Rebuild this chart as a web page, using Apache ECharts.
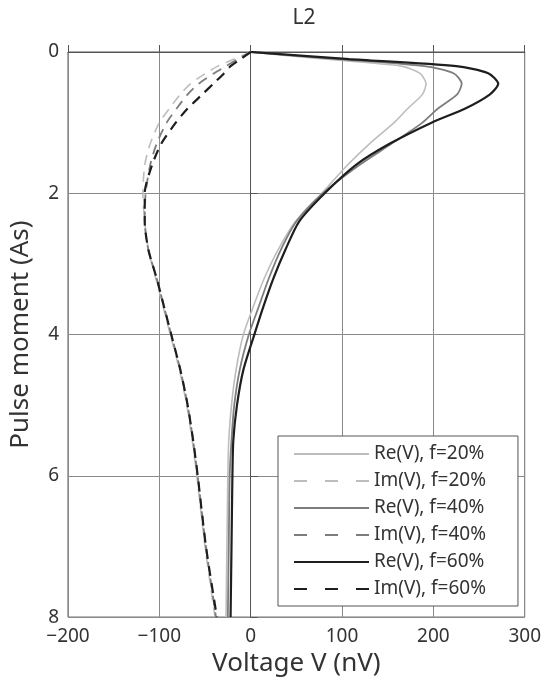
<!DOCTYPE html>
<html>
<head>
<meta charset="utf-8">
<script src="https://cdn.jsdelivr.net/npm/echarts@6/dist/echarts.min.js"></script>
<style>
  html, body { margin: 0; padding: 0; background: #fff; }
  #chart { width: 544px; height: 682px; }
</style>
</head>
<body>
<div id="chart"></div>
<script>
// pulse moment (As), shared by every curve
const pulseMoment = [0, 0.1, 0.2, 0.3, 0.45, 0.6, 0.8, 1.0, 1.3, 1.6, 2.0, 2.4, 2.8, 3.2, 3.6, 4.0, 4.5, 5.0, 5.5, 6.0, 7.0, 8.0];

// voltage (nV)
const re20 = [0, 80, 165, 185, 192, 188, 172, 157, 130, 106, 78, 49, 30, 15, 3, -8, -16, -21, -24, -25, -26, -27];
const im20 = [0, -18, -36, -49, -66, -77, -89, -100, -110, -116, -118, -116, -112, -104, -96, -88, -78, -70, -64, -59, -50, -39];
const re40 = [0, 95, 190, 222, 231, 226, 205, 188, 154, 119, 79, 50, 33, 20, 9, -2, -12, -18, -21, -23, -24, -25];
const im40 = [0, -14, -27, -40, -57, -69, -81, -92, -103, -110, -115, -116, -112, -103, -95, -87, -77, -69, -63, -58, -49, -38];
const re60 = [0, 108, 225, 260, 271, 262, 235, 198, 152, 115, 81, 53, 38, 25, 14, 4, -8, -15, -19, -20, -21, -22];
const im60 = [0, -11, -22, -29, -41, -53, -69, -82, -98, -108, -116, -116, -112, -103, -95, -87, -77, -69, -63, -58, -49, -37];

const seriesNames = ['Re(V), f=20%', 'Im(V), f=20%', 'Re(V), f=40%', 'Im(V), f=40%', 'Re(V), f=60%', 'Im(V), f=60%'];
const seriesValues = [re20, im20, re40, im40, re60, im60];
const seriesColors = ['#bdbdbd', '#bdbdbd', '#7d7d7d', '#7d7d7d', '#1e1e1e', '#1e1e1e'];
const seriesWidths = [1.6, 1.6, 1.8, 1.8, 2.2, 2.2];

const font = "'Noto Sans', sans-serif";
const minus = v => String(v).replace('-', '\u2212');

let chart = echarts.init(document.getElementById('chart'), null, { renderer: 'canvas' });

let series = [];
let legendData = [];
for (let i = 0; i < seriesNames.length; i++) {
  let dashed = i % 2 === 1;
  series.push({
    name: seriesNames[i],
    type: 'line',
    data: seriesValues[i].map((v, k) => [v, pulseMoment[k]]),
    symbol: 'none',
    smooth: 0.25,
    lineStyle: {
      color: seriesColors[i],
      width: seriesWidths[i],
      type: dashed ? [10, 7] : 'solid'
    },
    itemStyle: { color: seriesColors[i] },
    z: 2 + i
  });
  legendData.push({
    name: seriesNames[i],
    lineStyle: { type: dashed ? [13, 18] : 'solid' }
  });
}

let option = {
  animation: false,
  backgroundColor: '#fff',
  title: {
    text: 'L2',
    left: 299,
    textAlign: 'center',
    top: 3,
    textStyle: { fontFamily: font, fontSize: 21, fontWeight: 'normal', color: '#333' }
  },
  grid: {
    left: 68,
    right: 14,
    top: 52,
    bottom: 64,
    show: true,
    borderColor: '#555',
    borderWidth: 1,
    containLabel: false
  },
  legend: {
    orient: 'vertical',
    left: 278,
    top: 436,
    data: legendData,
    itemWidth: 75,
    itemHeight: 14,
    itemGap: 7,
    padding: [8, 32, 7, 15],
    backgroundColor: '#fff',
    borderColor: '#555',
    borderWidth: 1,
    borderRadius: 0,
    itemStyle: { color: 'transparent', borderWidth: 0, opacity: 0 },
    textStyle: { fontFamily: font, fontSize: 19, color: '#333', lineHeight: 20 },
    z: 20
  },
  xAxis: {
    type: 'value',
    min: -200,
    max: 300,
    interval: 100,
    name: 'Voltage V (nV)',
    nameLocation: 'middle',
    nameGap: 27,
    nameTextStyle: { fontFamily: font, fontSize: 26, color: '#333' },
    axisLine: { show: true, lineStyle: { color: '#555' } },
    axisTick: { show: true, inside: true, length: 7, lineStyle: { color: '#555' } },
    axisLabel: { fontFamily: font, fontSize: 19, color: '#333', margin: 10, formatter: minus },
    splitLine: { show: true, lineStyle: { color: '#8a8a8a', width: 1 } }
  },
  yAxis: {
    type: 'value',
    inverse: true,
    min: 0,
    max: 8,
    interval: 2,
    name: 'Pulse moment (As)',
    nameLocation: 'middle',
    nameGap: 34,
    nameRotate: 90,
    nameTextStyle: { fontFamily: font, fontSize: 26, color: '#333' },
    axisLine: { show: true, lineStyle: { color: '#555' } },
    axisTick: { show: true, inside: true, length: 7, lineStyle: { color: '#555' } },
    axisLabel: { fontFamily: font, fontSize: 19, color: '#333', margin: 9 },
    splitLine: { show: true, lineStyle: { color: '#8a8a8a', width: 1 } }
  },
  series: series
};

chart.setOption(option);
</script>
</body>
</html>
